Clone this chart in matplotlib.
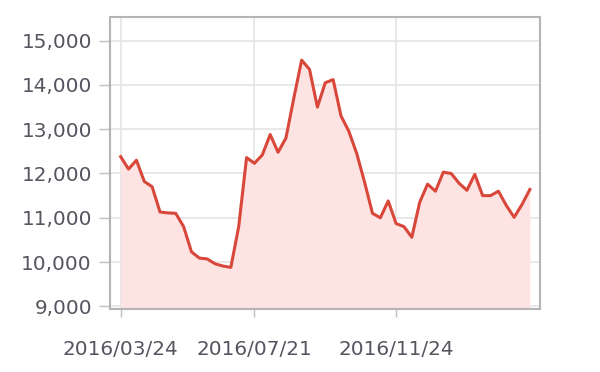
import datetime as dt
import matplotlib
matplotlib.use('Agg')
import matplotlib.pyplot as plt
import matplotlib.dates as mdates
from matplotlib.ticker import FuncFormatter

# weekly values
start = dt.date(2016, 3, 24)
values = [12380, 12100, 12300, 11820, 11700, 11130, 11110, 11100, 10800, 10230,
          10090, 10070, 9960, 9910, 9880, 10800, 12360, 12230, 12420, 12880,
          12480, 12800, 13700, 14560, 14350, 13500, 14050, 14120, 13300, 12950,
          12450, 11800, 11100, 11000, 11380, 10870, 10800, 10560, 11350, 11760,
          11600, 12030, 12000, 11780, 11620, 11980, 11500, 11500, 11600, 11280,
          11010, 11300, 11640]
dates = [start + dt.timedelta(weeks=i) for i in range(len(values))]
tick_dates = [dt.date(2016, 3, 24), dt.date(2016, 7, 21), dt.date(2016, 11, 24)]
tick_labels = ['2016/03/24', '2016/07/21', '2016/11/24']
y_ticks = [9000, 10000, 11000, 12000, 13000, 14000, 15000]

line_color = '#d9473b'
fill_color = '#fde3e1'
text_color = '#55555f'

fig = plt.figure(figsize=(6, 3.72), dpi=100)
ax = fig.add_axes([0.1833, 0.1694, 0.7167, 0.7856])

ax.fill_between(dates, values, 8000, color=fill_color, lw=0)
ax.plot(dates, values, color=line_color, linewidth=2.2)

x0 = mdates.date2num(start)
ax.set_xlim(x0 - 9.5, x0 + 373)
ax.set_ylim(8940, 15540)

ax.set_yticks(y_ticks)
ax.yaxis.set_major_formatter(FuncFormatter(lambda v, p: f'{int(v):,}'))
ax.set_xticks(tick_dates)
ax.set_xticklabels(tick_labels)

ax.grid(True, color='#e4e4e4', linewidth=1.2)
ax.set_axisbelow(True)
for s in ax.spines.values():
    s.set_color('#b4b4b4')
    s.set_linewidth(1.5)

ax.tick_params(axis='y', length=8, width=1, color='#c0c0c0', pad=5,
               labelsize=14.4, labelcolor=text_color)
ax.tick_params(axis='x', length=6, width=1, color='#c0c0c0', pad=16,
               labelsize=14.4, labelcolor=text_color)

fig.savefig('out.png', dpi=100)
